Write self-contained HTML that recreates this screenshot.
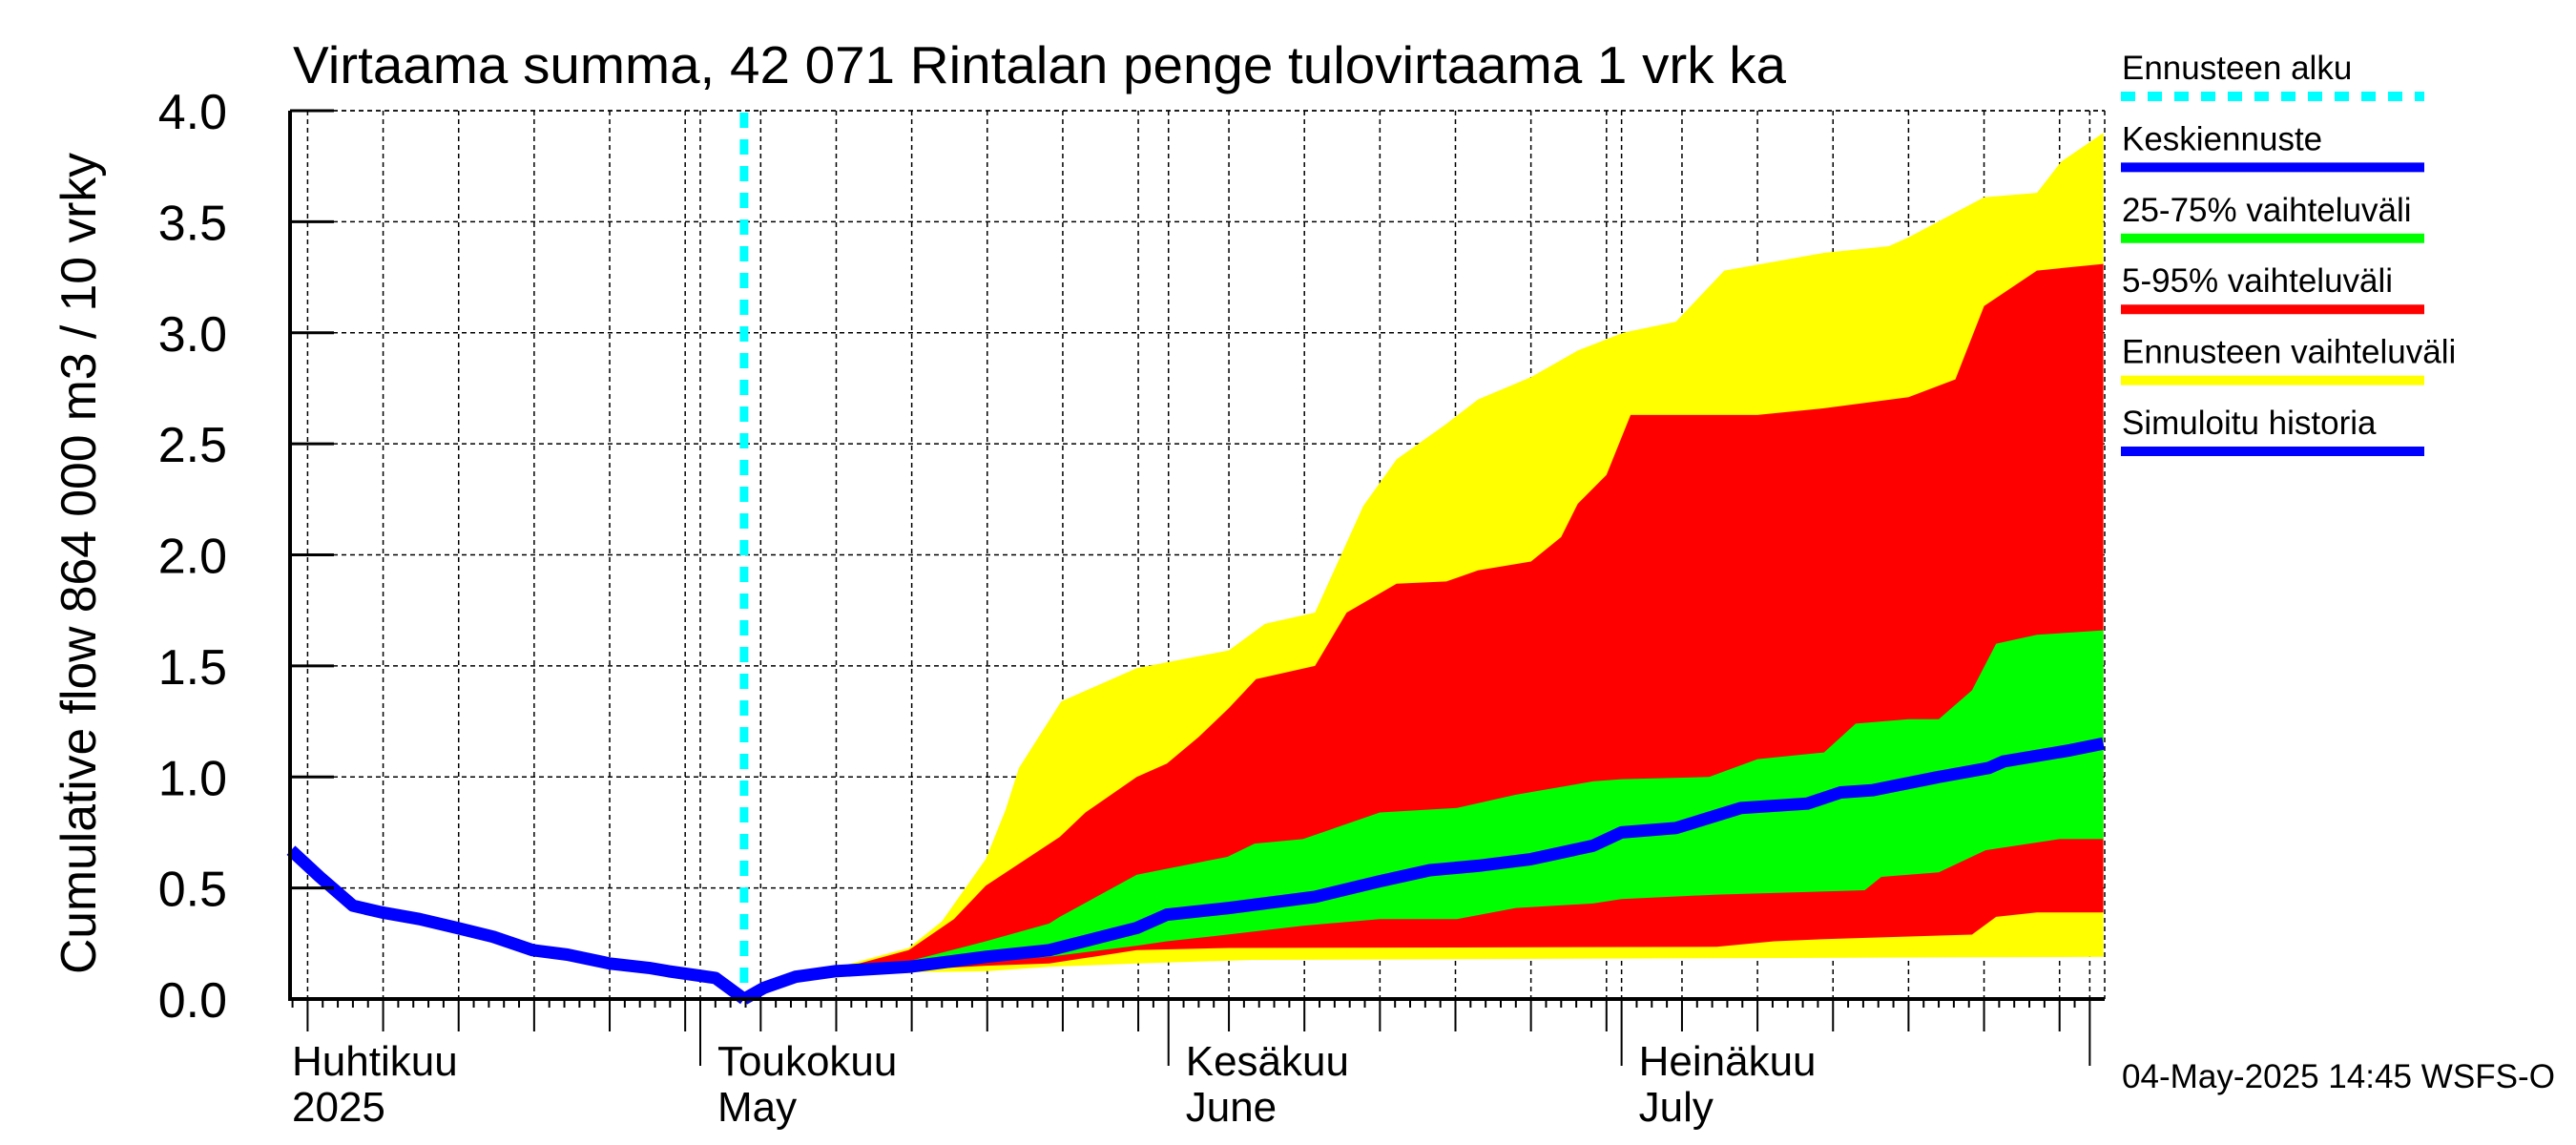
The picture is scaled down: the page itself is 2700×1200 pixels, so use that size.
<!DOCTYPE html>
<html><head><meta charset="utf-8"><style>
html,body{margin:0;padding:0;background:#fff;}
svg{display:block;font-family:"Liberation Sans",sans-serif;}
</style></head><body>
<svg id="chart" width="2700" height="1200" viewBox="0 0 2700 1200" xmlns="http://www.w3.org/2000/svg">
<text x="307" y="87" font-size="55" textLength="1565" lengthAdjust="spacingAndGlyphs">Virtaama summa, 42 071 Rintalan penge tulovirtaama 1 vrk ka</text>
<text transform="translate(100,1021) rotate(-90)" font-size="52" textLength="861" lengthAdjust="spacingAndGlyphs">Cumulative flow    864 000 m3 / 10 vrky</text>
<g id="grid"></g>
<g id="bands"></g>
<g id="lines"></g>
<g id="axes"></g>
<g id="legend"></g>
<text x="2224" y="1140" font-size="35" textLength="454" lengthAdjust="spacingAndGlyphs">04-May-2025 14:45 WSFS-O</text>
</svg>
<script>
// ---- data (days relative to 1 May 2025) ----
const histDays = [-27.1,-25.2,-23.0,-21.1,-18.6,-16.1,-13.7,-11.1,-8.8,-6.0,-3.4,-2.1,1.0,2.9];
const histVals = [0.67,0.55,0.42,0.39,0.36,0.32,0.28,0.22,0.20,0.16,0.14,0.125,0.095,0];
const medDays = [2.9,4.2,6.3,8.9,13.8,18.9,23.1,28.9,30.9,35,40.7,45,48.3,51.5,55,59.1,61,64.6,68.9,73.3,75.5,77.6,82,85.3,86.3,90.7,92.9];
const medVals = [0,0.05,0.10,0.125,0.145,0.19,0.22,0.32,0.38,0.41,0.46,0.53,0.58,0.60,0.63,0.69,0.75,0.77,0.86,0.88,0.93,0.94,1.0,1.04,1.07,1.12,1.15];
const yHiDays = [2.9,4.2,6.3,8.9,13.8,16,18.9,20.2,21.1,23.9,28.9,35,37.4,40.7,43.9,46.1,49.4,51.5,55,58.1,61.1,64.6,67.8,74.4,78.7,80,85,88.5,90.1,92.9];
const yHiVals = [0,0.05,0.11,0.14,0.23,0.35,0.63,0.85,1.04,1.34,1.49,1.57,1.69,1.74,2.22,2.43,2.59,2.70,2.80,2.92,3.0,3.05,3.28,3.36,3.39,3.43,3.61,3.63,3.77,3.90];
const yLoDays = [2.9,4.2,6.3,8.9,13.8,18.9,23.1,28.9,36.5,92.9];
const yLoVals = [0,0.05,0.10,0.115,0.12,0.125,0.145,0.16,0.176,0.19];
const rHiDays = [2.9,4.2,6.3,8.9,13.8,16.8,18.9,23.8,25.5,28.9,30.9,33,35,36.8,40.7,42.8,46.1,49.4,51.5,55,57,58.1,60,61.6,70,74.4,80,83.1,85,88.5,92.9];
const rHiVals = [0,0.05,0.10,0.13,0.22,0.36,0.51,0.73,0.84,1.0,1.06,1.18,1.31,1.44,1.50,1.74,1.87,1.88,1.93,1.97,2.08,2.23,2.36,2.63,2.63,2.66,2.71,2.79,3.12,3.28,3.31];
const rLoDays = [2.9,4.2,6.3,8.9,13.8,18.9,23.1,28.9,35,67.3,71.1,74.4,84.2,85.8,88.5,92.9];
const rLoVals = [0,0.05,0.10,0.12,0.13,0.15,0.16,0.22,0.23,0.235,0.26,0.27,0.29,0.37,0.39,0.39];
const gHiDays = [2.9,4.2,6.3,8.9,13.8,18.9,23.1,23.8,28.9,34.9,36.7,39.9,45,50.1,54,59.1,61,66.8,70,74.4,76.5,80,82,84.2,85.8,88.5,92.9];
const gHiVals = [0,0.05,0.10,0.13,0.17,0.26,0.34,0.37,0.56,0.64,0.70,0.72,0.84,0.86,0.92,0.98,0.99,1.0,1.08,1.11,1.24,1.26,1.26,1.39,1.60,1.64,1.66];
const gLoDays = [2.9,4.2,6.3,8.9,13.8,18.9,23.1,28.9,30.9,34.9,39.9,45,50.1,54,59.1,61,67.3,77.1,78.2,82,85.1,90,92.9];
const gLoVals = [0,0.05,0.10,0.12,0.14,0.17,0.19,0.24,0.26,0.29,0.33,0.36,0.36,0.41,0.43,0.45,0.47,0.49,0.55,0.57,0.67,0.72,0.72];
const yTicks = [0,0.5,1.0,1.5,2.0,2.5,3.0,3.5,4.0];
const yTickLabels = ["0.0","0.5","1.0","1.5","2.0","2.5","3.0","3.5","4.0"];
const monthNames = ["Huhtikuu","Toukokuu","Kesäkuu","Heinäkuu"];
const monthNamesEn = ["2025","May","June","July"];
const monthStartDays = [-30,0,31,61];

// ---- axes ----
const L=304, R=2206, T=116, B=1047;
const X0=734, PXD=15.83;
function xs(d){return X0+PXD*d;}
function ys(v){return B-(B-T)*v/4;}
const NS="http://www.w3.org/2000/svg";
function mk(tag,attrs,parent){const e=document.createElementNS(NS,tag);for(const k in attrs)e.setAttribute(k,attrs[k]);parent.appendChild(e);return e;}
const grid=document.getElementById('grid'), bands=document.getElementById('bands'), lines=document.getElementById('lines'), axes=document.getElementById('axes'), legend=document.getElementById('legend');

yTicks.forEach((v,i)=>{
  const g=mk('line',{x1:L,x2:R,y1:ys(v),y2:ys(v),stroke:'#000','stroke-width':1.5,'stroke-dasharray':'5 4'},grid);
  
  
  const t=mk('line',{x1:L,x2:L+46,y1:ys(v),y2:ys(v),stroke:'#000','stroke-width':3},axes);
  
  
  const lb=mk('text',{x:238,y:ys(v)+19,'font-size':52,'text-anchor':'end'},axes);
  lb.textContent=yTickLabels[i];
  
  
});
let dayList=[];
for(let d=4;d<=30;d++) dayList.push({day:d-31,dom:d});
for(let d=1;d<=31;d++) dayList.push({day:d-1,dom:d});
for(let d=1;d<=30;d++) dayList.push({day:30+d,dom:d});
for(let d=1;d<=31;d++) dayList.push({day:60+d,dom:d});
dayList.push({day:92,dom:1});
dayList.forEach(o=>{
  const x=xs(o.day); if(x<L-1||x>R+1) return;
  let len=9;
  const five=(o.dom%5===0);
  if(five) len=34;
  if(o.dom===1) len=70;
  if(five||o.dom===1){
    const g=mk('line',{x1:x,x2:x,y1:T,y2:B,stroke:'#000','stroke-width':1.5,'stroke-dasharray':'5 4'},grid);
    
    
  }
  const t=mk('line',{x1:x,x2:x,y1:B,y2:B+len,stroke:'#000','stroke-width':2},axes);
  
  
});
monthStartDays.forEach((d,i)=>{
  const x=Math.max(xs(d),L)+ (i===0?2:18);
  const a=mk('text',{x:x,y:1127,'font-size':44},axes); a.textContent=monthNames[i];
  
  
  const b=mk('text',{x:x,y:1175,'font-size':44},axes); b.textContent=monthNamesEn[i];
  
  
});
mk('line',{x1:L,x2:R,y1:T,y2:T,stroke:'#000','stroke-width':1.5,'stroke-dasharray':'5 4'},grid);
mk('line',{x1:R,x2:R,y1:T,y2:B,stroke:'#000','stroke-width':1.5,'stroke-dasharray':'5 4'},grid);
const ax1=mk('line',{x1:L,x2:L,y1:T,y2:B+2,stroke:'#000','stroke-width':4},axes);


const ax2=mk('line',{x1:L-2,x2:R,y1:B,y2:B,stroke:'#000','stroke-width':4},axes);



function band(hd,hv,ld,lv,color,name){
  let pts=hd.map((d,i)=>xs(d).toFixed(1)+','+ys(hv[i]).toFixed(1));
  for(let i=ld.length-1;i>=0;i--) pts.push(xs(ld[i]).toFixed(1)+','+ys(lv[i]).toFixed(1));
  const p=mk('polygon',{points:pts.join(' '),fill:color},bands);
  
  
}
band(yHiDays,yHiVals,yLoDays,yLoVals,'#ffff00','forecast-range-band');
band(rHiDays,rHiVals,rLoDays,rLoVals,'#ff0000','band-5-95');
band(gHiDays,gHiVals,gLoDays,gLoVals,'#00ff00','band-25-75');
function line(ds,vs,name){
  const p=mk('polyline',{points:ds.map((d,i)=>xs(d).toFixed(1)+','+ys(vs[i]).toFixed(1)).join(' '),fill:'none',stroke:'#0000ff','stroke-width':13,'stroke-linejoin':'round'},lines);
  
  
}
const fs=mk('line',{x1:xs(2.9),x2:xs(2.9),y1:T+2,y2:B,stroke:'#00ffff','stroke-width':9,'stroke-dasharray':'16 12'},lines);


line(histDays,histVals,'simulated-history-line');
line(medDays,medVals,'median-forecast-line');

const leg=[["Ennusteen alku","#00ffff",true],["Keskiennuste","#0000ff"],["25-75% vaihteluväli","#00ff00"],["5-95% vaihteluväli","#ff0000"],["Ennusteen vaihteluväli","#ffff00"],["Simuloitu historia","#0000ff"]];
leg.forEach((e,i)=>{
  const y=83+i*74.4;
  const t=mk('text',{x:2224,y:y,'font-size':35},legend); t.textContent=e[0];
  
  
  const a={x1:2223,x2:2541,y1:y+18,y2:y+18,stroke:e[1],'stroke-width':10};
  if(e[2]) a['stroke-dasharray']='15 13';
  const l=mk('line',a,legend);
  
  
});
</script>
</body></html>
